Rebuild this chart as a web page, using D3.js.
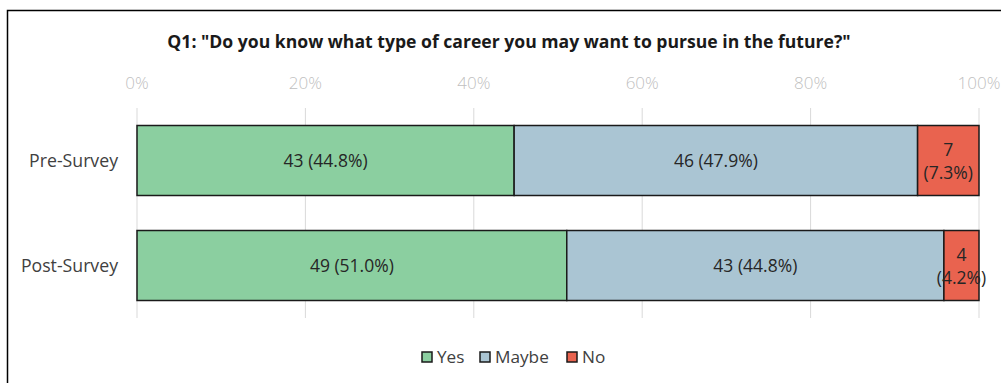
<!DOCTYPE html>
<html>
<head>
<meta charset="utf-8">
<script src="https://cdn.jsdelivr.net/npm/d3@7"></script>
<style>
  body { margin: 0; background: #fff; }
  svg { display: block; font-family: "Open Sans", sans-serif; }
</style>
</head>
<body>
<div id="chart"></div>
<script>
// survey responses
const categories = ["Pre-Survey", "Post-Survey"];
const answers = ["Yes", "Maybe", "No"];
const yesCounts = [43, 49];
const maybeCounts = [46, 43];
const noCounts = [7, 4];
const tickValues = [0, 0.2, 0.4, 0.6, 0.8, 1];
const title = 'Q1: "Do you know what type of career you may want to pursue in the future?"';

const colors = { Yes: "#8bcfa0", Maybe: "#aac5d3", No: "#e9634f" };

const width = 1001, height = 383;
const svg = d3.select("#chart").append("svg")
    .attr("width", width)
    .attr("height", height);

// chart frame
svg.append("rect")
    .attr("x", 7.5).attr("y", 10.5)
    .attr("width", 1010).attr("height", 400)
    .attr("fill", "none")
    .attr("stroke", "#000")
    .attr("stroke-width", 1.5);

svg.append("text")
    .attr("x", 509).attr("y", 48)
    .attr("text-anchor", "middle")
    .attr("font-size", 17.6)
    .attr("font-weight", "bold")
    .attr("fill", "#1a1a1a")
    .text(title);

const x = d3.scaleLinear().domain([0, 1]).range([137, 979]);
const y = d3.scaleBand().domain(categories).range([108, 318])
    .paddingInner(1 / 3).paddingOuter(1 / 6);

// gridlines
svg.append("g").selectAll("line")
    .data(tickValues)
    .join("line")
    .attr("x1", d => x(d)).attr("x2", d => x(d))
    .attr("y1", 108).attr("y2", 318)
    .attr("stroke", "#d9d9d9")
    .attr("stroke-width", 1);

// top axis labels
svg.append("g").selectAll("text")
    .data(tickValues)
    .join("text")
    .attr("x", d => x(d))
    .attr("y", 89)
    .attr("text-anchor", "middle")
    .attr("font-size", 17)
    .attr("font-weight", 300)
    .attr("fill", "#bfbfbf")
    .text(d3.format(".0%"));

// stack data
const rows = categories.map((c, i) => ({
    category: c, Yes: yesCounts[i], Maybe: maybeCounts[i], No: noCounts[i],
    total: yesCounts[i] + maybeCounts[i] + noCounts[i]
}));
const series = d3.stack().keys(answers).offset(d3.stackOffsetExpand)(rows);

const fmtPct = d3.format(".1%");

const layer = svg.append("g").selectAll("g")
    .data(series)
    .join("g")
    .attr("fill", d => colors[d.key]);

layer.selectAll("rect")
    .data(d => d.map(p => ({ key: d.key, p })))
    .join("rect")
    .attr("x", d => x(d.p[0]))
    .attr("y", d => y(d.p.data.category))
    .attr("width", d => x(d.p[1]) - x(d.p[0]))
    .attr("height", y.bandwidth())
    .attr("stroke", "#1a1a1a")
    .attr("stroke-width", 1.5);

// segment labels
layer.selectAll("text")
    .data(d => d.map(p => ({ key: d.key, p })))
    .join("text")
    .attr("text-anchor", "middle")
    .attr("font-size", 17.5)
    .attr("fill", "#262626")
    .each(function (d) {
        const cnt = d.p.data[d.key];
        const pct = fmtPct(cnt / d.p.data.total);
        const cx = (x(d.p[0]) + x(d.p[1])) / 2;
        const cy = y(d.p.data.category) + y.bandwidth() / 2;
        const t = d3.select(this);
        if (d.key === "No") {
            t.append("tspan").attr("x", cx).attr("y", cy - 5).text(cnt);
            t.append("tspan").attr("x", cx).attr("y", cy + 18).text(`(${pct})`);
        } else {
            t.append("tspan").attr("x", cx).attr("y", cy + 6).text(`${cnt} (${pct})`);
        }
    });

// category labels
svg.append("g").selectAll("text")
    .data(categories)
    .join("text")
    .attr("x", 118)
    .attr("y", d => y(d) + y.bandwidth() / 2 + 6)
    .attr("text-anchor", "end")
    .attr("font-size", 17.7)
    .attr("fill", "#404040")
    .text(d => d);

// legend
const legendX = [422, 480, 567];
const legend = svg.append("g").selectAll("g")
    .data(answers)
    .join("g")
    .attr("transform", (d, i) => `translate(${legendX[i]}, 352)`);

legend.append("rect")
    .attr("width", 10).attr("height", 10)
    .attr("fill", d => colors[d])
    .attr("stroke", "#1a1a1a")
    .attr("stroke-width", 1.5);

legend.append("text")
    .attr("x", 15).attr("y", 11)
    .attr("font-size", 17.2)
    .attr("fill", "#404040")
    .text(d => d);
</script>
</body>
</html>
